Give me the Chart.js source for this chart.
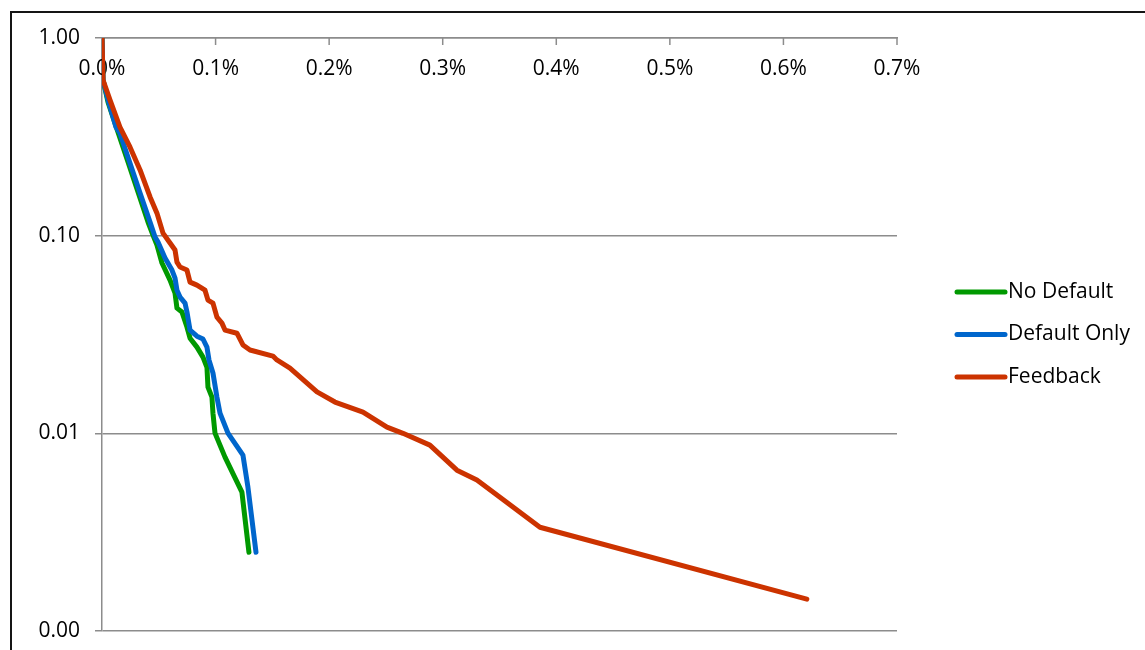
<!DOCTYPE html>
<html>
<head>
<meta charset="utf-8">
<script src="https://cdn.jsdelivr.net/npm/chart.js@4/dist/chart.umd.min.js"></script>
<style>
  body { margin: 0; overflow: hidden; background: #fff; }
  #frame { position: absolute; left: 10px; top: 11px; width: 2000px; height: 2000px;
           border-left: 2px solid #151515; border-top: 2px solid #151515; }
  #wrap { position: absolute; left: 0; top: 0; width: 1145px; height: 650px; }
</style>
</head>
<body>
<div id="frame"></div>
<div id="wrap"><canvas id="chart" width="1145" height="650"></canvas></div>
<script>
// Valores (x em %, y em escala log)
const xTicks = [0, 0.1, 0.2, 0.3, 0.4, 0.5, 0.6, 0.7];
const yTicks = [0.001, 0.01, 0.1, 1];
const seriesNames = ['No Default', 'Default Only', 'Feedback'];

const noDefaultX = [0, 0.0009, 0.0053, 0.0141, 0.0229, 0.0317, 0.0405, 0.0449, 0.0484, 0.0528,
  0.0599, 0.0643, 0.0660, 0.0704, 0.0748, 0.0775, 0.0836, 0.0889, 0.0924, 0.0933,
  0.0968, 0.0977, 0.0995, 0.1083, 0.1232, 0.1294];
const noDefaultY = [1.0, 0.613, 0.474, 0.334, 0.236, 0.1662, 0.1172, 0.1007, 0.0896, 0.0727,
  0.0596, 0.0512, 0.0430, 0.0411, 0.0345, 0.0303, 0.0273, 0.0243, 0.0216, 0.01713,
  0.01524, 0.01265, 0.01002, 0.00758, 0.00504, 0.0025];

const defaultOnlyX = [0, 0.0009, 0.0053, 0.0123, 0.0158, 0.0246, 0.0335, 0.0423, 0.0467, 0.0493,
  0.0555, 0.0616, 0.0643, 0.0660, 0.0687, 0.0731, 0.0748, 0.0775, 0.0836, 0.0889,
  0.0924, 0.0942, 0.0977, 0.1012, 0.1039, 0.1109, 0.1241, 0.1285, 0.1356];
const defaultOnlyY = [1.0, 0.613, 0.486, 0.354, 0.330, 0.233, 0.1643, 0.1172, 0.0984, 0.0928,
  0.0770, 0.0670, 0.0610, 0.0530, 0.0489, 0.0456, 0.0411, 0.0333, 0.0310, 0.0300,
  0.0273, 0.0235, 0.0202, 0.01524, 0.01265, 0.01002, 0.00776, 0.00534, 0.0025];

const feedbackX = [0, 0.0009, 0.0070, 0.0158, 0.0246, 0.0335, 0.0423, 0.0484, 0.0537, 0.0599,
  0.0643, 0.0660, 0.0687, 0.0748, 0.0775, 0.0836, 0.0907, 0.0933, 0.0977, 0.1012,
  0.1056, 0.1083, 0.1188, 0.1241, 0.1303, 0.1505, 0.1540, 0.1655, 0.1893, 0.2051,
  0.2298, 0.2509, 0.2650, 0.2887, 0.3125, 0.3301, 0.3504, 0.3856, 0.6206];
const feedbackY = [1.0, 0.613, 0.486, 0.354, 0.281, 0.215, 0.157, 0.130, 0.103, 0.0918,
  0.0846, 0.0735, 0.0694, 0.0670, 0.0582, 0.0562, 0.0530, 0.0472, 0.0456, 0.0387,
  0.0361, 0.0333, 0.0321, 0.0280, 0.0264, 0.0246, 0.0235, 0.0214, 0.0162, 0.0144,
  0.0128, 0.01075, 0.0100, 0.00872, 0.00651, 0.00580, 0.00475, 0.00335, 0.00145];

const cores = ['rgb(0, 153, 0)', 'rgb(0, 102, 204)', 'rgb(204, 51, 0)'];
const corGrade = '#8c8c8c';
const fonte = '21px "Open Sans"';

function pontos(xs, ys) {
  return xs.map((x, i) => ({ x: x, y: ys[i] }));
}

// Rótulos do eixo x ficam dentro da área, abaixo do eixo superior
const eixoSuperior = {
  id: 'eixoSuperior',
  beforeDatasetsDraw(chart) {
    const ctx = chart.ctx;
    const sx = chart.scales.x;
    const top = chart.chartArea.top;
    ctx.save();
    ctx.strokeStyle = corGrade;
    ctx.lineWidth = 1.5;
    ctx.fillStyle = '#000';
    ctx.font = fonte;
    ctx.textAlign = 'center';
    ctx.textBaseline = 'middle';
    xTicks.forEach(v => {
      const px = sx.getPixelForValue(v);
      ctx.beginPath();
      ctx.moveTo(px, top);
      ctx.lineTo(px, top + 7);
      ctx.stroke();
      ctx.fillText(v.toFixed(1) + '%', px, top + 31);
    });
    ctx.restore();
  }
};

// Legenda desenhada à direita
const legendaDireita = {
  id: 'legendaDireita',
  afterDraw(chart) {
    const ctx = chart.ctx;
    ctx.save();
    ctx.font = fonte;
    ctx.textAlign = 'left';
    ctx.textBaseline = 'middle';
    seriesNames.forEach((nome, i) => {
      const y = 292 + i * 42.5;
      ctx.strokeStyle = cores[i];
      ctx.lineWidth = 5;
      ctx.lineCap = 'round';
      ctx.beginPath();
      ctx.moveTo(957, y);
      ctx.lineTo(1005, y);
      ctx.stroke();
      ctx.fillStyle = '#000';
      ctx.fillText(nome, 1008, y);
    });
    ctx.restore();
  }
};

const series = [
  { xs: noDefaultX, ys: noDefaultY, order: 3 },
  { xs: defaultOnlyX, ys: defaultOnlyY, order: 2 },
  { xs: feedbackX, ys: feedbackY, order: 1 }
];

const ctx = document.getElementById('chart').getContext('2d');
const grafico = new Chart(ctx, {
  type: 'line',
  data: {
    datasets: series.map((s, i) => ({
      label: seriesNames[i],
      data: pontos(s.xs, s.ys),
      borderColor: cores[i],
      backgroundColor: cores[i],
      borderWidth: 5,
      borderCapStyle: 'round',
      borderJoinStyle: 'round',
      pointRadius: 0,
      tension: 0,
      fill: false,
      order: s.order
    }))
  },
  options: {
    responsive: false,
    animation: false,
    layout: { padding: { left: 0, top: 0, right: 248, bottom: 19 } },
    plugins: {
      legend: { display: false },
      tooltip: { enabled: false }
    },
    scales: {
      x: {
        type: 'linear',
        position: 'top',
        min: 0,
        max: 0.7,
        ticks: { display: false, stepSize: 0.1 },
        grid: { display: false },
        border: { display: true, color: corGrade, width: 1.5 },
        afterFit(scale) { scale.height = 38; }
      },
      y: {
        type: 'logarithmic',
        min: 0.001,
        max: 1,
        afterBuildTicks(scale) {
          scale.ticks = yTicks.map(v => ({ value: v, major: true }));
        },
        ticks: {
          color: '#000',
          font: { family: 'Open Sans', size: 21 },
          padding: 15,
          autoSkip: false,
          callback: v => Number(v).toFixed(2)
        },
        grid: { color: corGrade, lineWidth: 1.5, tickLength: 7 },
        border: { display: true, color: corGrade, width: 1.5 },
        afterFit(scale) {
          scale.width = 102;
          scale.paddingTop = 0;
          scale.paddingBottom = 0;
        }
      }
    }
  },
  plugins: [eixoSuperior, legendaDireita]
});
</script>
</body>
</html>
